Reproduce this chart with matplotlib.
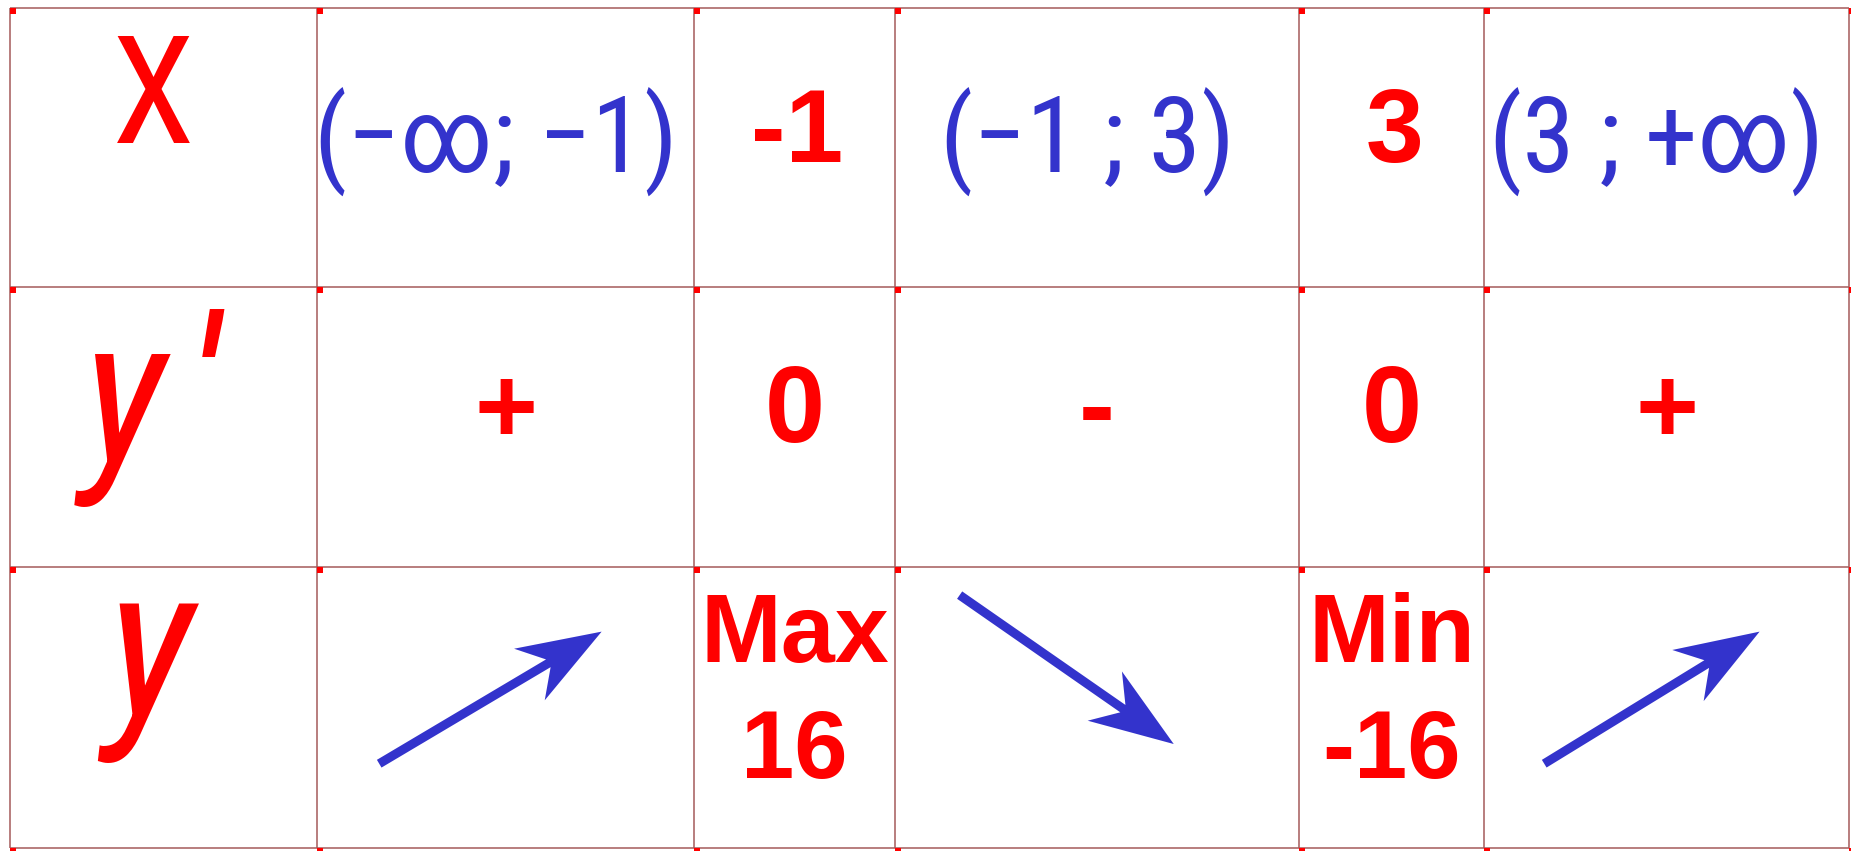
import matplotlib
matplotlib.use("Agg")
import matplotlib.pyplot as plt
from matplotlib import font_manager
from matplotlib.patches import Polygon
import numpy as np

# таблица знаков производной
row_labels = ["X", "y ′", "y"]
x_cells = ["(−∞; −1)", "-1", "(−1 ; 3)", "3", "(3 ; +∞)"]
sign_cells = ["+", "0", "-", "0", "+"]
y_top = ["", "Max", "", "Min", ""]
y_bottom = ["", "16", "", "-16", ""]
trend = ["up", "", "down", "", "up"]

# разметка (пиксели)
col_edges = [10, 317, 694, 895, 1299, 1484, 1849]
row_edges = [8, 287, 567, 848]

RED = "#ff0000"
BLUE = "#3333cc"
LINE = "#a45a5a"

names = {f.name for f in font_manager.fontManager.ttflist}
narrow = next((n for n in ["Roboto Condensed", "Archivo Narrow", "PT Sans Narrow"] if n in names),
              "Liberation Sans")
fam_narrow = [narrow, "Liberation Sans", "DejaVu Sans"]
fam_bold = ["Liberation Sans", "DejaVu Sans"]


def pt(px):
    return px * 0.72


fig = plt.figure(figsize=(18.51, 8.51), dpi=100)
ax = fig.add_axes([0, 0, 1, 1])
ax.set_xlim(0, 1851)
ax.set_ylim(851, 0)
ax.axis("off")

# сетка
for x in col_edges:
    ax.vlines(x, row_edges[0], row_edges[-1], color=LINE, lw=1.1)
for y in row_edges:
    ax.hlines(y, col_edges[0], col_edges[-1], color=LINE, lw=1.1)
gx, gy = np.meshgrid(col_edges, row_edges)
ax.plot(gx.ravel() + 3, gy.ravel() + 3, "s", color=RED, ms=4, mew=0)

centers = [(col_edges[i] + col_edges[i + 1]) / 2 for i in range(len(col_edges) - 1)]

# заголовки строк
ax.text(153, 143, row_labels[0], color=RED, fontsize=pt(150), family=fam_narrow,
        ha="center", va="baseline")
base, mark = row_labels[1].split()
ax.text(124, 463, base, color=RED, fontsize=pt(205), family=fam_narrow,
        style="italic", ha="center", va="baseline")
ax.text(202, 463, mark, color=RED, fontsize=pt(205), family=fam_narrow,
        style="italic", ha="center", va="baseline")
ax.text(150, 717, row_labels[2], color=RED, fontsize=pt(215), family=fam_narrow,
        style="italic", ha="center", va="baseline")

# строка X
for i, s in enumerate(x_cells):
    cx = centers[i + 1]
    if s.startswith("("):
        ax.text(cx - 10, 173, s, color=BLUE, fontsize=pt(106), family=fam_narrow,
                ha="center", va="baseline")
    else:
        ax.text(cx + 3, 162, s, color=RED, fontsize=pt(104), family=fam_bold,
                weight="bold", ha="center", va="baseline")

# строка y'
for i, s in enumerate(sign_cells):
    ax.text(centers[i + 1], 442, s, color=RED, fontsize=pt(108), family=fam_bold,
            weight="bold", ha="center", va="baseline")

# строка y
for i, s in enumerate(y_top):
    if s:
        ax.text(centers[i + 1], 662, s, color=RED, fontsize=pt(97), family=fam_bold,
                weight="bold", ha="center", va="baseline")
        ax.text(centers[i + 1], 778, y_bottom[i], color=RED, fontsize=pt(96),
                family=fam_bold, weight="bold", ha="center", va="baseline")


def arrow_poly(tail, tip, shaft=9, head_len=84, head_half=30, notch=62):
    t = np.array(tail, float)
    p = np.array(tip, float)
    u = (p - t) / np.linalg.norm(p - t)
    n = np.array([-u[1], u[0]])
    b = p - u * notch
    h = p - u * head_len
    return [t + n * shaft / 2, b + n * shaft / 2, h + n * head_half, p,
            h - n * head_half, b - n * shaft / 2, t - n * shaft / 2]


y0, y1 = row_edges[2], row_edges[3]
for i, d in enumerate(trend):
    if not d:
        continue
    x0, x1 = col_edges[i + 1], col_edges[i + 2]
    w, h = x1 - x0, y1 - y0
    if d == "up":
        tail = (x0 + 0.165 * w, y0 + 0.70 * h)
        tip = (x0 + 0.755 * w, y0 + 0.23 * h)
    else:
        tail = (x0 + 0.16 * w, y0 + 0.10 * h)
        tip = (x0 + 0.69 * w, y0 + 0.63 * h)
    ax.add_patch(Polygon(arrow_poly(tail, tip), closed=True, color=BLUE, lw=0))

fig.savefig("out.png", dpi=100)
